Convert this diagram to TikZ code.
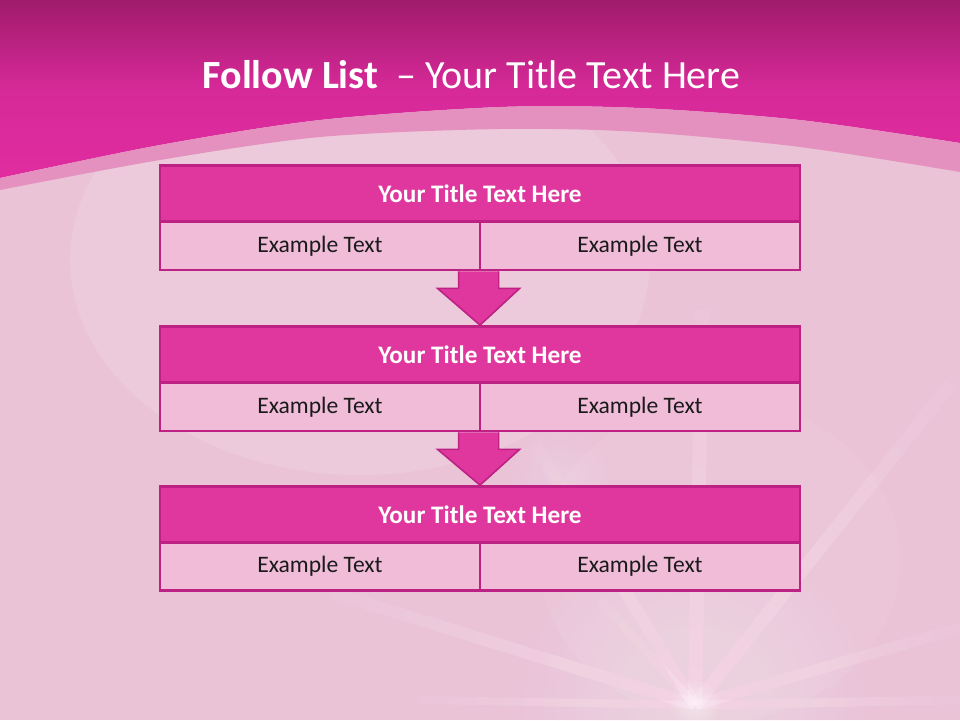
\documentclass[tikz,border=0pt]{standalone}
\usepackage{fontspec}
\setmainfont{Carlito}
\usetikzlibrary{calc}
\definecolor{topdark}{HTML}{A01B6C}
\definecolor{topmid}{HTML}{E02CA0}
\definecolor{bandpink}{HTML}{E591C0}
\definecolor{basepink}{HTML}{EAC3D7}
\definecolor{boxhead}{HTML}{E0379F}
\definecolor{boxline}{HTML}{BC2183}
\definecolor{boxcell}{HTML}{F1BCD8}
\definecolor{txtdark}{HTML}{1A1A1A}
\definecolor{raywhite}{HTML}{FFEAF6}
\tikzset{
  headbox/.style={draw=boxline, line width=2.8pt, fill=boxhead, minimum width=640pt, minimum height=56pt, inner sep=0pt, text=white, font=\fontsize{25.2}{29}\selectfont\bfseries},
  cellbox/.style={draw=boxline, line width=2.8pt, fill=boxcell, minimum width=320pt, minimum height=48pt, inner sep=0pt, text=txtdark, font=\fontsize{23.6}{27}\selectfont},
  downarrow/.style={draw=boxline, line width=1.6pt, fill=boxhead, line join=miter},
  glow/.style={raywhite, opacity=0.04}
}
\begin{document}
\begin{tikzpicture}[x=1pt,y=-1pt]
\useasboundingbox (0,0) rectangle (960,720);
% base background
\fill[basepink] (0,0) rectangle (960,720);
\fill[white, opacity=0.12] (360,260) ellipse (290 and 215);
\fill[white, opacity=0.06] (720,560) ellipse (180 and 160);
% soft rays
\coordinate (C) at (695,705);
\foreach \ex/\ey/\w in {702/310/14, 535/445/12, 950/385/13, 960/628/11, 330/592/12, 960/700/9, 600/600/9, 420/700/8}{
  \coordinate (E) at (\ex,\ey);
  \foreach \i in {0,...,9}{
    \pgfmathsetmacro{\ta}{\i/10}
    \pgfmathsetmacro{\tb}{(\i+1)/10}
    \pgfmathsetmacro{\op}{0.36*(1-\i/11)}
    \draw[raywhite, opacity=\op, line width=\w pt] ($(C)!\ta!(E)$) -- ($(C)!\tb!(E)$);
  }
}
\foreach \r in {10,20,...,170}{
  \fill[glow] (C) circle (\r);
}
\foreach \r in {4,8,...,24}{
  \fill[white, opacity=0.08] (C) circle (\r);
}
\foreach \r in {6,12,...,48}{
  \fill[glow] (560,480) circle (\r);
}
% top band
\shade[top color=topdark, bottom color=topmid, middle color=topmid!85!topdark]
  (0,0) -- (960,0) -- (960,143)
  -- plot[smooth] coordinates {(960,143) (800,120) (640,108) (500,107) (320,120) (160,145) (0,178)}
  -- cycle;
\fill[bandpink]
  plot[smooth] coordinates {(0,178) (160,145) (320,120) (500,107) (640,108) (800,120) (960,143)}
  -- (960,172)
  -- plot[smooth] coordinates {(960,172) (800,147) (640,132) (500,129) (320,137) (160,160) (0,190)}
  -- cycle;
% title
\node[text=white, font=\fontsize{40}{48}\selectfont] (title) at (471.5,75) {\textbf{Follow List}\ \ – Your Title Text Here};
% boxes
\node[headbox] (t1) at (480,193.5) {Your Title Text Here};
\node[cellbox] (l1) at (320,246) {Example Text};
\node[cellbox] (r1) at (640,246) {Example Text};
\node[headbox] (t2) at (480,354.5) {Your Title Text Here};
\node[cellbox] (l2) at (320,407) {Example Text};
\node[cellbox] (r2) at (640,407) {Example Text};
\node[headbox] (t3) at (480,514.5) {Your Title Text Here};
\node[cellbox] (l3) at (320,566.5) {Example Text};
\node[cellbox] (r3) at (640,566.5) {Example Text};
% arrows
\foreach \a/\b in {r1/t2, r2/t3}{
  \coordinate (s) at (\a.south west);
  \coordinate (e) at (\b.north);
  \draw[downarrow] ($(s)+(-20,0)$) -- ($(s)+(-20,17)$) -- ($(s)+(-41,17)$) -- (e)
    -- ($(s)+(41,17)$) -- ($(s)+(20,17)$) -- ($(s)+(20,0)$);
  \fill[boxhead] ($(s)+(-19,0.5)$) rectangle ($(s)+(19,18)$);
}
\end{tikzpicture}
\end{document}
